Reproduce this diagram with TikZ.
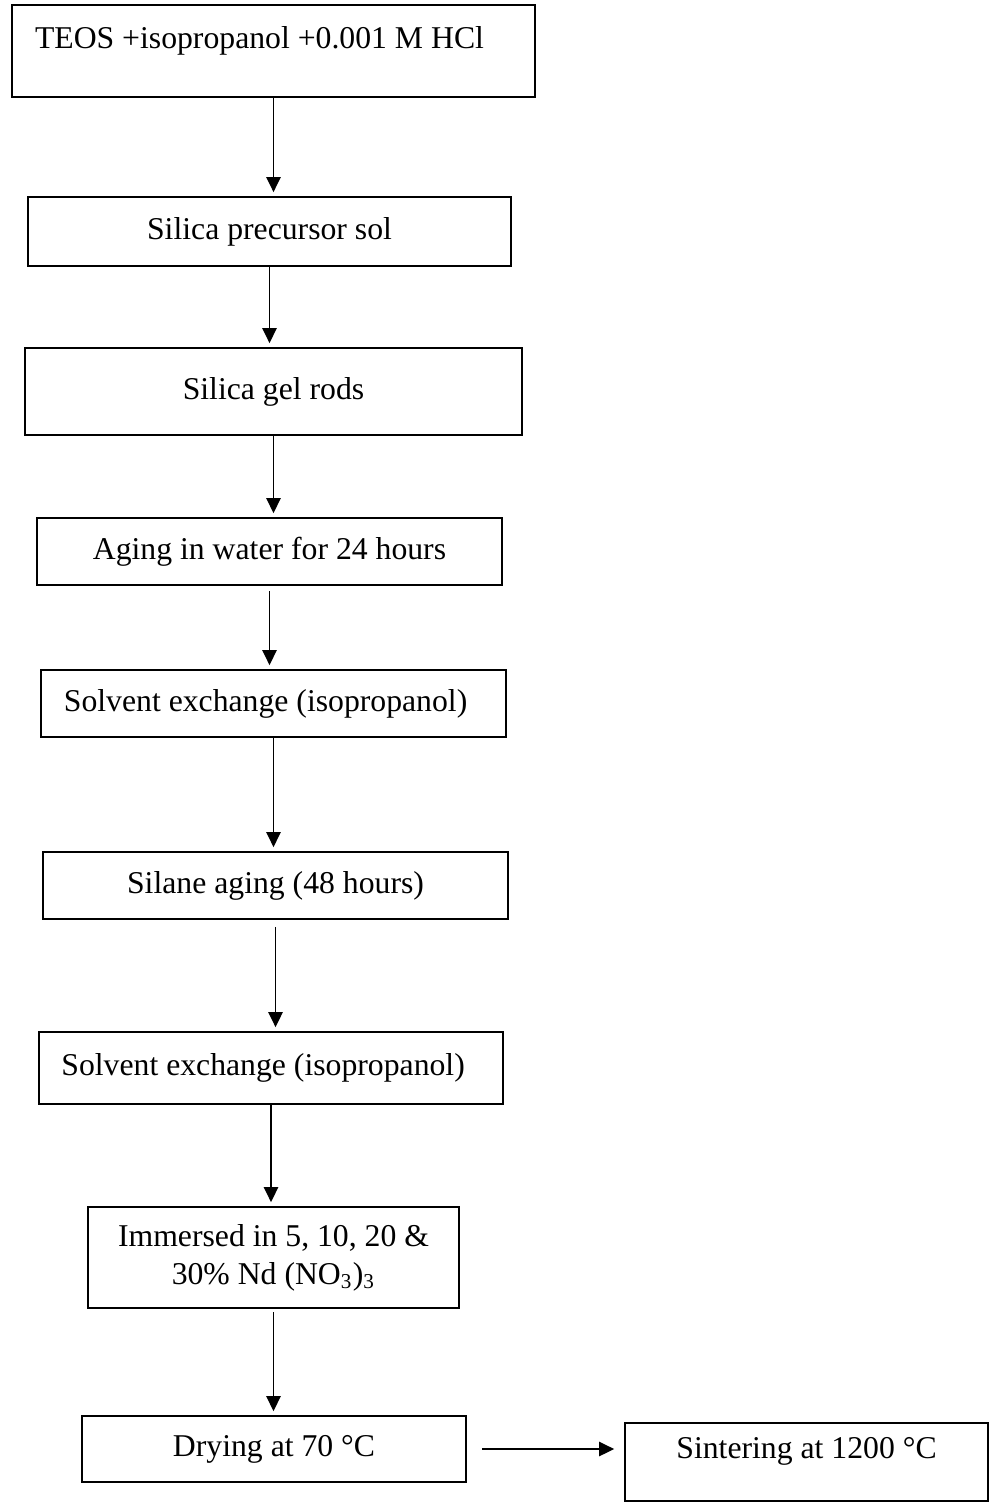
\documentclass[tikz,border=0pt]{standalone}
\usepackage{fontspec}
\setmainfont{Liberation Serif}
\usetikzlibrary{arrows.meta}
\tikzset{
  stepbox/.style={rectangle, draw=black, line width=0.8pt, inner sep=0pt, align=center, font=\fontsize{12}{14.3}\selectfont},
  topbox/.style={stepbox, text depth=1.04em},
  flow/.style={line width=0.6pt, draw=black, shorten >=0.05cm, -{Triangle[length=2mm, width=1.9mm]}},
}

\begin{document}
\begin{tikzpicture}
\useasboundingbox (0,0) rectangle (13.165,20.000);
\node[topbox, minimum width=6.955cm, minimum height=1.223cm, text width=6.343cm, align=flush left] (feed) at (3.637,19.322) {TEOS +isopropanol +0.001 M HCl};
\node[stepbox, minimum width=6.423cm, minimum height=0.918cm] (sol) at (3.584,16.922) {Silica precursor sol};
\node[stepbox, minimum width=6.609cm, minimum height=1.157cm] (gel) at (3.637,14.794) {Silica gel rods};
\node[stepbox, minimum width=6.184cm, minimum height=0.891cm] (aging) at (3.584,12.666) {Aging in water for 24 hours};
\node[stepbox, minimum width=6.184cm, minimum height=0.891cm] (exchA) at (3.637,10.645) {Solvent exchange (isopropanol)\hspace*{0.21cm}};
\node[stepbox, minimum width=6.184cm, minimum height=0.891cm] (silane) at (3.664,8.225) {Silane aging (48 hours)};
\node[stepbox, minimum width=6.170cm, minimum height=0.957cm] (exchB) at (3.604,5.798) {Solvent exchange (isopropanol)\hspace*{0.21cm}};
\node[stepbox, minimum width=4.934cm, minimum height=1.343cm] (immerse) at (3.637,3.278) {Immersed in 5, 10, 20 \&\\30\% Nd (NO\textsubscript{3})\textsubscript{3}};
\node[stepbox, minimum width=5.106cm, minimum height=0.878cm] (drying) at (3.644,0.731) {Drying at 70 °C};
\node[topbox, minimum width=4.827cm, minimum height=1.037cm] (sinter) at (10.725,0.559) {Sintering at 1200 °C};
\draw[flow] (feed.south) -- (feed.south |- sol.north);
\draw[flow] (sol.south) -- (sol.south |- gel.north);
\draw[flow] (gel.south) -- (gel.south |- aging.north);
\draw[flow, shorten <=0.07cm] (aging.south) -- (aging.south |- exchA.north);
\draw[flow] (exchA.south) -- (exchA.south |- silane.north);
\draw[flow, shorten <=0.09cm] (silane.south) -- (silane.south |- exchB.north);
\draw[flow] (exchB.south) -- (exchB.south |- immerse.north);
\draw[flow, shorten <=0.04cm] (immerse.south) -- (immerse.south |- drying.north);
\draw[flow, shorten <=0.2cm, shorten >=0.13cm] (drying.east) -- (drying.east -| sinter.west);
\end{tikzpicture}
\end{document}
